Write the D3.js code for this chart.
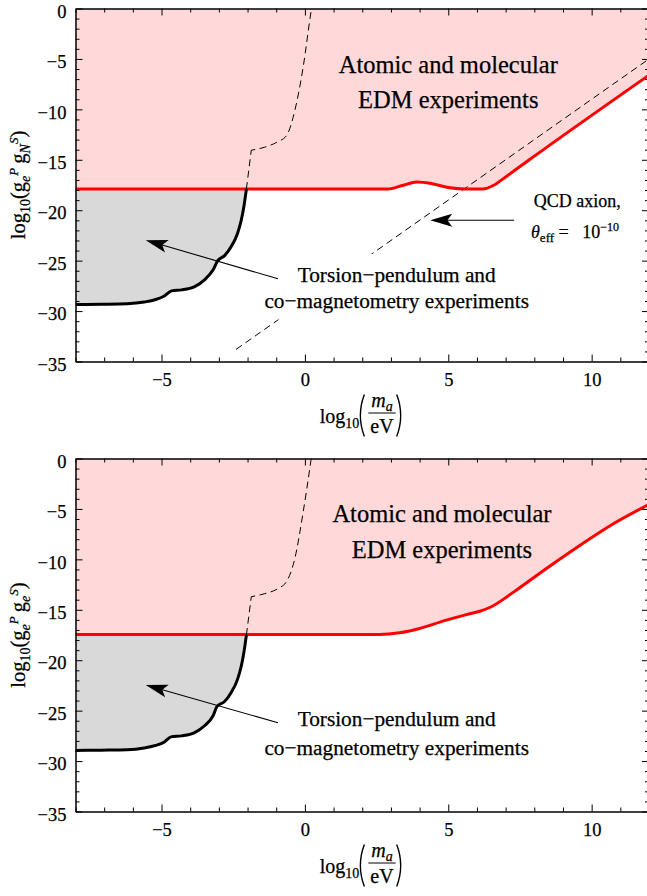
<!DOCTYPE html>
<html>
<head>
<meta charset="utf-8">
<script src="https://cdn.jsdelivr.net/npm/d3@7"></script>
<style>
body { margin: 0; background: #fff; }
svg { display: block; }
svg text { stroke: #000; stroke-width: 0.25px; }
</style>
</head>
<body>
<div id="chart"></div>
<script>
var xDomain = [-8, 12];
var yDomain = [-35, 0];
var xMajor = [-5, 0, 5, 10];
var yMajor = [0, -5, -10, -15, -20, -25, -30, -35];

// top panel: g_e^P g_N^S
var edmNX = [-8, 2.9, 3.4, 3.9, 4.4, 5.0, 5.6, 6.2, 6.6, 7.0, 7.8, 12];
var edmNY = [-17.9, -17.9, -17.55, -17.2, -17.35, -17.75, -17.9, -17.9, -17.5, -16.7, -15.05, -6.6];
var torsionNX = [-8, -7.1, -6.2, -5.6, -5.2, -4.9, -4.65, -4.3, -3.86, -3.5, -3.2, -3.04, -2.8, -2.57, -2.35, -2.22, -2.12, -2.04];
var torsionNY = [-29.35, -29.32, -29.27, -29.1, -28.85, -28.5, -28.0, -27.9, -27.6, -26.9, -25.9, -25.0, -24.5, -23.6, -22.3, -21.0, -19.5, -17.9];
var torsionDashNX = [-1.87, -1.4, -0.94, -0.64, -0.35, -0.06, 0.21, 0.23];
var torsionDashNY = [-14.05, -13.75, -13.2, -12.6, -10.1, -5.8, -0.37, 0];
var qcdX = [-2.4, 12];
var qcdY = [-33.8, -5];

// bottom panel: g_e^P g_e^S
var edmEX = [-8, 2.6, 3.3, 4.0, 4.9, 5.6, 6.1, 6.5, 7.3, 8.4, 9.6, 10.8, 12];
var edmEY = [-17.45, -17.45, -17.28, -16.85, -16.05, -15.5, -15.15, -14.7, -13.2, -10.95, -8.6, -6.4, -4.55];
var torsionEX = [-8, -7.1, -6.2, -5.6, -5.2, -4.9, -4.67, -4.3, -3.86, -3.5, -3.2, -3.07, -2.8, -2.57, -2.35, -2.22, -2.12, -2.04];
var torsionEY = [-28.95, -28.92, -28.88, -28.7, -28.45, -28.1, -27.6, -27.5, -27.2, -26.5, -25.5, -24.6, -24.1, -23.2, -21.9, -20.6, -19.1, -17.5];
var torsionDashEX = [-1.87, -1.4, -0.94, -0.64, -0.35, -0.06, 0.21, 0.22];
var torsionDashEY = [-13.7, -13.4, -12.9, -12.2, -9.9, -5.3, -0.2, 0];

var svg = d3.select("#chart").append("svg")
    .attr("width", 647)
    .attr("height", 896)
    .attr("font-family", "'Liberation Serif', 'Times New Roman', Times, serif");

function zip(xs, ys) {
    return xs.map(function(v, i) { return [v, ys[i]]; });
}

function addRich(sel, parts) {
    parts.forEach(function(p) {
        var ts = sel.append("tspan").text(p.t).style("font-size", p.s + "px");
        if (p.dy) ts.attr("dy", p.dy);
        if (p.it) ts.style("font-style", "italic");
    });
    return sel;
}

function arrow(g, x1, y1, x2, y2) {
    var ang = Math.atan2(y2 - y1, x2 - x1);
    var L = 22, W = 6.5;
    g.append("line")
        .attr("x1", x1).attr("y1", y1)
        .attr("x2", x2 - Math.cos(ang) * L * 0.7)
        .attr("y2", y2 - Math.sin(ang) * L * 0.7)
        .attr("stroke", "#000")
        .attr("stroke-width", 1.1);
    g.append("path")
        .attr("d", "M0,0L" + (-L) + "," + (-W) + "L" + (-0.78 * L) + ",0L" + (-L) + "," + W + "Z")
        .attr("transform", "translate(" + x2 + "," + y2 + ") rotate(" + (ang * 180 / Math.PI) + ")")
        .attr("fill", "#000");
}

function paren(g, px, top, bottom, left) {
    var mid = (top + bottom) / 2;
    var d = left
        ? "M" + (px + 4) + "," + top + "Q" + (px - 4) + "," + mid + " " + (px + 4) + "," + bottom
        : "M" + px + "," + top + "Q" + (px + 8) + "," + mid + " " + px + "," + bottom;
    g.append("path").attr("d", d).attr("fill", "none").attr("stroke", "#000").attr("stroke-width", 1.4);
}

function xLabel(g, cx, base) {
    var grp = g.append("g");
    var t = grp.append("text").attr("x", 0).attr("y", base);
    addRich(t, [{t: "log", s: 20}, {t: "10", s: 14, dy: 5}]);
    var w = t.node().getComputedTextLength();
    var p1 = w + 1;
    paren(grp, p1, base - 28, base + 14, true);
    var fx = p1 + 8;
    var num = grp.append("text").attr("y", base - 16).attr("text-anchor", "middle");
    addRich(num, [{t: "m", s: 20, it: true}, {t: "a", s: 14, dy: 4, it: true}]);
    var den = grp.append("text").attr("y", base + 10).attr("text-anchor", "middle")
        .style("font-size", "20px").text("eV");
    var fw = Math.max(num.node().getComputedTextLength(), den.node().getComputedTextLength()) + 4;
    num.attr("x", fx + fw / 2);
    den.attr("x", fx + fw / 2);
    grp.append("line").attr("x1", fx).attr("x2", fx + fw)
        .attr("y1", base - 9.5).attr("y2", base - 9.5)
        .attr("stroke", "#000").attr("stroke-width", 1);
    paren(grp, fx + fw + 1, base - 28, base + 14, false);
    var total = fx + fw + 9;
    grp.attr("transform", "translate(" + (cx - total / 2) + ",0)");
}

function drawPanel(id, top, p) {
    var x = d3.scaleLinear().domain(xDomain).range([75.5, 649]);
    var y = d3.scaleLinear().domain(yDomain).range([top + 353, top]);
    var g = svg.append("g").attr("class", "panel");

    g.append("clipPath").attr("id", "clip-" + id)
        .append("rect")
        .attr("x", x(-8)).attr("y", y(0))
        .attr("width", x(12) - x(-8)).attr("height", y(-35) - y(0));
    var plot = g.append("g").attr("clip-path", "url(#clip-" + id + ")");

    var edm = zip(p.edmX, p.edmY);
    var tors = zip(p.torsX, p.torsY);
    var dash = zip(p.dashX, p.dashY);

    var line = d3.line()
        .curve(d3.curveMonotoneX)
        .x(function(d) { return x(d[0]); })
        .y(function(d) { return y(d[1]); });
    var straight = d3.line()
        .x(function(d) { return x(d[0]); })
        .y(function(d) { return y(d[1]); });

    // excluded by EDM experiments
    plot.append("path")
        .datum(edm)
        .attr("fill", "#ffd9d9")
        .attr("d", d3.area()
            .curve(d3.curveMonotoneX)
            .x(function(d) { return x(d[0]); })
            .y0(y(0))
            .y1(function(d) { return y(d[1]); }));

    // excluded by torsion pendulum / co-magnetometry
    plot.append("path")
        .datum(tors)
        .attr("fill", "#d9d9d9")
        .attr("d", d3.area()
            .curve(d3.curveMonotoneX)
            .x(function(d) { return x(d[0]); })
            .y0(y(p.edmY[0]))
            .y1(function(d) { return y(d[1]); }));

    if (p.qcd) {
        plot.append("path")
            .datum(zip(qcdX, qcdY))
            .attr("fill", "none")
            .attr("stroke", "#000")
            .attr("stroke-width", 1)
            .attr("stroke-dasharray", "7,4.5")
            .attr("d", straight);
    }

    plot.append("path")
        .datum(edm)
        .attr("fill", "none")
        .attr("stroke", "#ff0000")
        .attr("stroke-width", 3)
        .attr("d", line);

    plot.append("path")
        .datum([tors[tors.length - 1], dash[0]])
        .attr("fill", "none")
        .attr("stroke", "#000")
        .attr("stroke-width", 1)
        .attr("stroke-dasharray", "7,4.5")
        .attr("d", straight);

    plot.append("path")
        .datum(dash)
        .attr("fill", "none")
        .attr("stroke", "#000")
        .attr("stroke-width", 1)
        .attr("stroke-dasharray", "7,4.5")
        .attr("stroke-dashoffset", 3)
        .attr("d", line);

    plot.append("path")
        .datum(tors)
        .attr("fill", "none")
        .attr("stroke", "#000")
        .attr("stroke-width", 3)
        .attr("d", line);

    // frame with ticks on all four sides
    var minorX = d3.range(-8, 13).filter(function(v) { return xMajor.indexOf(v) < 0; });
    var minorY = d3.range(-35, 1).filter(function(v) { return yMajor.indexOf(v) < 0; });
    var fmt = d3.format("d");

    function styleAxis(a) {
        a.attr("font-size", 18.5).attr("font-family", null);
        a.selectAll("line, path").attr("stroke", "#000");
    }

    g.append("g").attr("transform", "translate(0," + y(-35) + ")")
        .call(d3.axisBottom(x).tickValues(xMajor).tickSize(-7).tickSizeOuter(0).tickPadding(11).tickFormat(fmt))
        .call(styleAxis);
    g.append("g").attr("transform", "translate(0," + y(-35) + ")")
        .call(d3.axisBottom(x).tickValues(minorX).tickSize(-4).tickSizeOuter(0).tickFormat(""))
        .call(styleAxis);
    g.append("g").attr("transform", "translate(0," + y(0) + ")")
        .call(d3.axisTop(x).tickValues(xMajor).tickSize(-7).tickSizeOuter(0).tickFormat(""))
        .call(styleAxis);
    g.append("g").attr("transform", "translate(0," + y(0) + ")")
        .call(d3.axisTop(x).tickValues(minorX).tickSize(-4).tickSizeOuter(0).tickFormat(""))
        .call(styleAxis);
    var ly = g.append("g").attr("transform", "translate(" + x(-8) + ",0)")
        .call(d3.axisLeft(y).tickValues(yMajor).tickSize(-7).tickSizeOuter(0).tickPadding(9).tickFormat(fmt))
        .call(styleAxis);
    ly.selectAll("text").attr("dy", "0.47em");
    g.append("g").attr("transform", "translate(" + x(-8) + ",0)")
        .call(d3.axisLeft(y).tickValues(minorY).tickSize(-4).tickSizeOuter(0).tickFormat(""))
        .call(styleAxis);
    g.append("g").attr("transform", "translate(" + x(12) + ",0)")
        .call(d3.axisRight(y).tickValues(yMajor).tickSize(-7).tickSizeOuter(0).tickFormat(""))
        .call(styleAxis);
    g.append("g").attr("transform", "translate(" + x(12) + ",0)")
        .call(d3.axisRight(y).tickValues(minorY).tickSize(-4).tickSizeOuter(0).tickFormat(""))
        .call(styleAxis);

    // region labels
    var atomic = g.append("text").attr("text-anchor", "middle").style("font-size", "24.5px");
    atomic.append("tspan").attr("x", x(p.atomicX)).attr("y", y(p.atomicY[0])).text("Atomic and molecular");
    atomic.append("tspan").attr("x", x(p.atomicX)).attr("y", y(p.atomicY[1])).text("EDM experiments");

    var tg = g.append("g");
    var tt = tg.append("text").attr("text-anchor", "middle").style("font-size", "21.3px");
    tt.append("tspan").attr("x", x(p.torsLabelX)).attr("y", y(p.torsLabelY[0])).text("Torsion\u2212pendulum and");
    tt.append("tspan").attr("x", x(p.torsLabelX)).attr("y", y(p.torsLabelY[1])).text("co\u2212magnetometry experiments");
    var bb = tt.node().getBBox();
    tg.insert("rect", "text")
        .attr("x", bb.x - 6).attr("y", bb.y - 9)
        .attr("width", bb.width + 12).attr("height", bb.height + 16)
        .attr("fill", "#fff");

    arrow(g, x(p.torsArrow[0][0]), y(p.torsArrow[0][1]), x(p.torsArrow[1][0]), y(p.torsArrow[1][1]));

    if (p.qcd) {
        var q = g.append("text").attr("text-anchor", "middle").style("font-size", "18px");
        q.append("tspan").attr("x", x(9.5)).attr("y", y(-19.7)).text("QCD axion,");
        var q2 = g.append("text").attr("text-anchor", "middle")
            .attr("x", x(9.42)).attr("y", y(-22.75));
        addRich(q2, [
            {t: "\u03b8", s: 18, it: true},
            {t: "eff", s: 13, dy: 4},
            {t: " =\u2002 10", s: 18, dy: -4},
            {t: "\u221210", s: 12, dy: -7}
        ]);
        arrow(g, x(7.3), y(-21), x(4.37), y(-21));
    }

    // axis labels
    xLabel(g, (x(-8) + x(12)) / 2, y(-35) + 61);

    var yl = g.append("text")
        .attr("text-anchor", "middle")
        .attr("transform", "translate(25," + (y(-17.5)) + ") rotate(-90)");
    addRich(yl, [
        {t: "log", s: 20.5},
        {t: "10", s: 14, dy: 5},
        {t: "(g", s: 20.5, dy: -5},
        {t: "e", s: 14, dy: 5, it: true},
        {t: "P", s: 13, dy: -12, it: true},
        {t: "\u2009g", s: 20.5, dy: 7},
        {t: p.sub2, s: 14, dy: 5, it: true},
        {t: "S", s: 13, dy: -12, it: true},
        {t: ")", s: 20.5, dy: 7}
    ]);
}

drawPanel("top", 8.5, {
    edmX: edmNX, edmY: edmNY,
    torsX: torsionNX, torsY: torsionNY,
    dashX: torsionDashNX, dashY: torsionDashNY,
    qcd: true,
    atomicX: 5.0, atomicY: [-6.4, -9.9],
    torsLabelX: 3.2, torsLabelY: [-27.1, -29.65],
    torsArrow: [[-0.94, -26.8], [-5.55, -22.97]],
    sub2: "N"
});

drawPanel("bottom", 458.5, {
    edmX: edmEX, edmY: edmEY,
    torsX: torsionEX, torsY: torsionEY,
    dashX: torsionDashEX, dashY: torsionDashEY,
    qcd: false,
    atomicX: 4.78, atomicY: [-6.3, -9.9],
    torsLabelX: 3.2, torsLabelY: [-26.57, -29.37],
    torsArrow: [[-0.94, -26.2], [-5.55, -22.45]],
    sub2: "e"
});
</script>
</body>
</html>
